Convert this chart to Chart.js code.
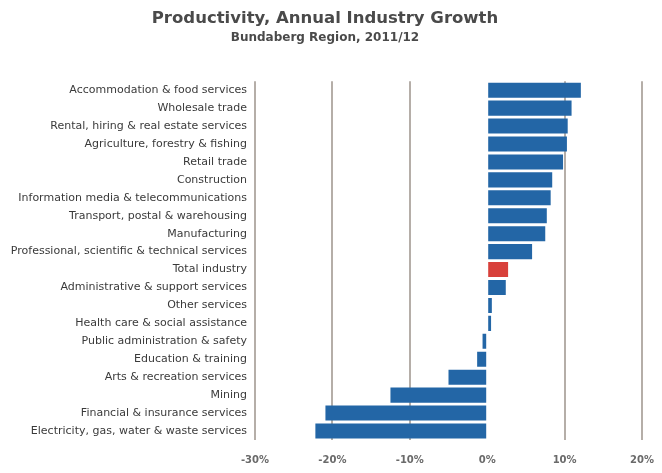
<!DOCTYPE html>
<html>
<head>
<meta charset="utf-8">
<script src="https://cdn.jsdelivr.net/npm/chart.js@4.4.0/dist/chart.umd.min.js"></script>
<style>
  html, body { margin: 0; padding: 0; background: #fff; }
  #wrap { position: relative; width: 662px; height: 473px; }
</style>
</head>
<body>
<div id="wrap"><canvas id="chartProductivity"></canvas></div>
<script>
// Industrias ordenadas de mayor a menor crecimiento
const industries = [
    'Accommodation & food services',
    'Wholesale trade',
    'Rental, hiring & real estate services',
    'Agriculture, forestry & fishing',
    'Retail trade',
    'Construction',
    'Information media & telecommunications',
    'Transport, postal & warehousing',
    'Manufacturing',
    'Professional, scientific & technical services',
    'Total industry',
    'Administrative & support services',
    'Other services',
    'Health care & social assistance',
    'Public administration & safety',
    'Education & training',
    'Arts & recreation services',
    'Mining',
    'Financial & insurance services',
    'Electricity, gas, water & waste services'
];

// Crecimiento anual de productividad (%)
const growth = [12.1, 10.9, 10.4, 10.3, 9.8, 8.4, 8.2, 7.7, 7.5, 5.8,
                2.7, 2.4, 0.6, 0.5, -0.6, -1.3, -5.0, -12.5, -20.9, -22.2];

const xTicks = [-30, -20, -10, 0, 10, 20];

const BLUE = '#2366a6';
const RED = '#d8403a';
const barColors = industries.map(name => name === 'Total industry' ? RED : BLUE);

const ctx = document.getElementById('chartProductivity');
new Chart(ctx, {
    type: 'bar',
    data: {
        labels: industries,
        datasets: [{
            data: growth,
            backgroundColor: barColors,
            borderWidth: 0,
            barPercentage: 0.84,
            categoryPercentage: 1.0
        }]
    },
    options: {
        indexAxis: 'y',
        responsive: true,
        maintainAspectRatio: false,
        animation: false,
        layout: { padding: { top: 0, right: 20, bottom: 6, left: 8 } },
        plugins: {
            legend: { display: false },
            tooltip: { enabled: false },
            title: {
                display: true,
                text: 'Productivity, Annual Industry Growth',
                color: '#4a4a4a',
                font: { family: 'DejaVu Sans', size: 16.5, weight: 'bold' },
                padding: { top: 9, bottom: 2 }
            },
            subtitle: {
                display: true,
                text: 'Bundaberg Region, 2011/12',
                color: '#4a4a4a',
                font: { family: 'DejaVu Sans', size: 12, weight: 'bold' },
                padding: { top: 0, bottom: 36 }
            }
        },
        scales: {
            x: {
                min: -30,
                max: 20,
                afterBuildTicks: (axis) => { axis.ticks = xTicks.map(v => ({ value: v })); },
                afterFit: (axis) => {
                    axis.height = 27;
                    axis.paddingLeft = 0;
                    axis.paddingRight = 0;
                },
                grid: {
                    // la línea del cero queda oculta detrás de las barras
                    color: (c) => c.tick && c.tick.value === 0 ? 'rgba(0,0,0,0)' : '#b5aea8',
                    lineWidth: 2,
                    drawTicks: false
                },
                border: { display: false },
                ticks: {
                    padding: 14,
                    color: '#6a6a6a',
                    font: { family: 'DejaVu Sans', size: 10, weight: 'bold' },
                    callback: (v) => v + '%'
                }
            },
            y: {
                afterFit: (axis) => { axis.width = 247; },
                grid: { display: false, drawTicks: false },
                border: { display: false },
                ticks: {
                    padding: 8,
                    color: '#3a3a3a',
                    autoSkip: false,
                    font: { family: 'DejaVu Sans', size: 11 }
                }
            }
        }
    }
});
</script>
</body>
</html>
